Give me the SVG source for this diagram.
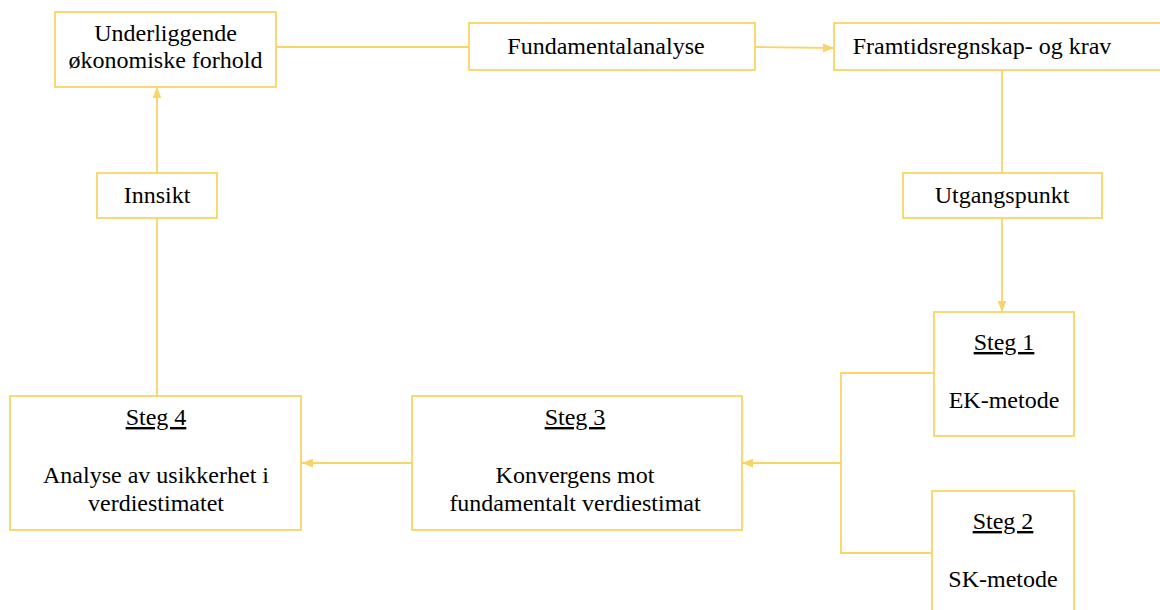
<svg xmlns="http://www.w3.org/2000/svg" width="1160" height="610" viewBox="0 0 1160 610">
  <defs>
    <marker id="arrow" viewBox="0 0 10 8" refX="10" refY="4" markerWidth="11" markerHeight="9" orient="auto" markerUnits="userSpaceOnUse">
      <path d="M0,0 L10,4 L0,8 z" fill="#FAD565"/>
    </marker>
    <style>
      .box { fill: #ffffff; stroke: #FAD565; stroke-width: 1.8; }
      .link { fill: none; stroke: #FAD565; stroke-width: 1.8; }
      .arrowed { marker-end: url(#arrow); }
      .lbl { font-family: 'Liberation Serif', 'DejaVu Serif', serif; font-size: 24px; fill: #000; text-anchor: middle; }
      .step { text-decoration: underline; }
    </style>
  </defs>
  <rect width="1160" height="610" fill="#ffffff"/>

  <!-- connectors -->
  <g id="connectors">
    <line class="link" x1="276" y1="47" x2="469" y2="47"/>
    <line class="link arrowed" x1="755" y1="47" x2="834" y2="48"/>
    <line class="link" x1="1002" y1="70" x2="1002" y2="173"/>
    <line class="link arrowed" x1="1002" y1="218" x2="1002" y2="312"/>
    <polyline class="link" points="934,373 841,373 841,553 932,553"/>
    <line class="link arrowed" x1="841" y1="463" x2="742" y2="463"/>
    <line class="link arrowed" x1="412" y1="463" x2="302" y2="463"/>
    <line class="link" x1="157" y1="395" x2="157" y2="218"/>
    <line class="link arrowed" x1="157" y1="173" x2="157" y2="87"/>
  </g>

  <g id="node-underliggende">
    <rect class="box" x="55" y="12" width="221" height="75"/>
    <text class="lbl" x="165.5" y="41">Underliggende</text>
    <text class="lbl" x="165.5" y="68">økonomiske forhold</text>
  </g>

  <g id="node-fundamentalanalyse">
    <rect class="box" x="469" y="23" width="286" height="47"/>
    <text class="lbl" x="606" y="54">Fundamentalanalyse</text>
  </g>

  <g id="node-framtidsregnskap">
    <rect class="box" x="834" y="23" width="330" height="47"/>
    <text class="lbl" x="982" y="54">Framtidsregnskap- og krav</text>
  </g>

  <g id="node-utgangspunkt">
    <rect class="box" x="903" y="173" width="199" height="45"/>
    <text class="lbl" x="1002" y="203">Utgangspunkt</text>
  </g>

  <g id="node-innsikt">
    <rect class="box" x="97" y="173" width="120" height="45"/>
    <text class="lbl" x="157" y="203">Innsikt</text>
  </g>

  <g id="node-steg1">
    <rect class="box" x="934" y="312" width="140" height="124"/>
    <text class="lbl step" x="1004" y="350">Steg 1</text>
    <text class="lbl" x="1004" y="408">EK-metode</text>
  </g>

  <g id="node-steg2">
    <rect class="box" x="932" y="491" width="142" height="130"/>
    <text class="lbl step" x="1003" y="529">Steg 2</text>
    <text class="lbl" x="1003" y="587">SK-metode</text>
  </g>

  <g id="node-steg3">
    <rect class="box" x="412" y="396" width="330" height="134"/>
    <text class="lbl step" x="575" y="425">Steg 3</text>
    <text class="lbl" x="575" y="483">Konvergens mot</text>
    <text class="lbl" x="575" y="511">fundamentalt verdiestimat</text>
  </g>

  <g id="node-steg4">
    <rect class="box" x="10" y="396" width="291" height="134"/>
    <text class="lbl step" x="156" y="425">Steg 4</text>
    <text class="lbl" x="156" y="483">Analyse av usikkerhet i</text>
    <text class="lbl" x="156" y="511">verdiestimatet</text>
  </g>
</svg>
